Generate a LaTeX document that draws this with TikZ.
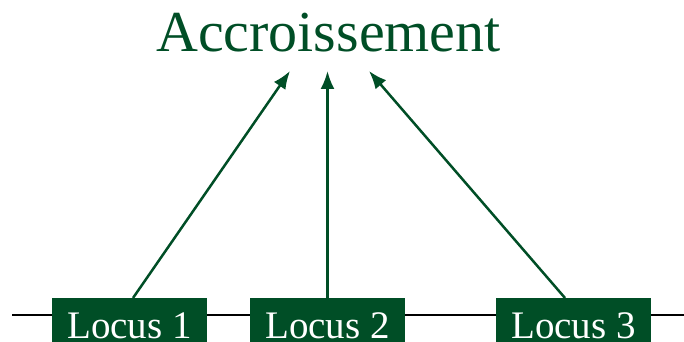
\documentclass[tikz,border=0pt]{standalone}
\usepackage{fontspec}
\setmainfont{Liberation Serif}
\usetikzlibrary{arrows.meta,positioning}
\definecolor{locusgreen}{RGB}{0,78,38}
\tikzset{
	locus/.style = {fill=locusgreen, text=white, font=\fontsize{39}{39}\selectfont,
		minimum width=155pt, text height=25pt, text depth=8pt, inner ysep=16pt,
		outer sep=0pt, anchor=north},
	title/.style = {text=locusgreen, font=\fontsize{58}{60}\selectfont, anchor=base},
	link/.style = {locusgreen, -{Latex[length=18pt,width=14pt]}}
}

\begin{document}
\begin{tikzpicture}[x=1pt,y=1pt,line width=2.5pt]
	\useasboundingbox (0,0) rectangle (684,342);
	\clip (0,0) rectangle (684,342);
	\coordinate (lstart) at (12,27);
	\coordinate (lend) at (700,27);
	\draw (lstart) -- (lend);
	\node[locus] (l1) at (129.5,44) {Locus 1};
	\node[locus] (l2) [right=43pt of l1] {Locus 2};
	\node[locus] (l3) [right=91pt of l2] {Locus 3};
	\node[title] (acc) at (328.5,290) {Accroissement};
	\coordinate (t1) at (290,271);
	\coordinate (t2) at (327.5,271);
	\coordinate (t3) at (369,271);
	\draw[link] ([xshift=3.5pt]l1.north) -- (t1);
	\draw[link] (l2.north) -- (t2);
	\draw[link] ([xshift=-8.5pt]l3.north) -- (t3);
\end{tikzpicture}
\end{document}
